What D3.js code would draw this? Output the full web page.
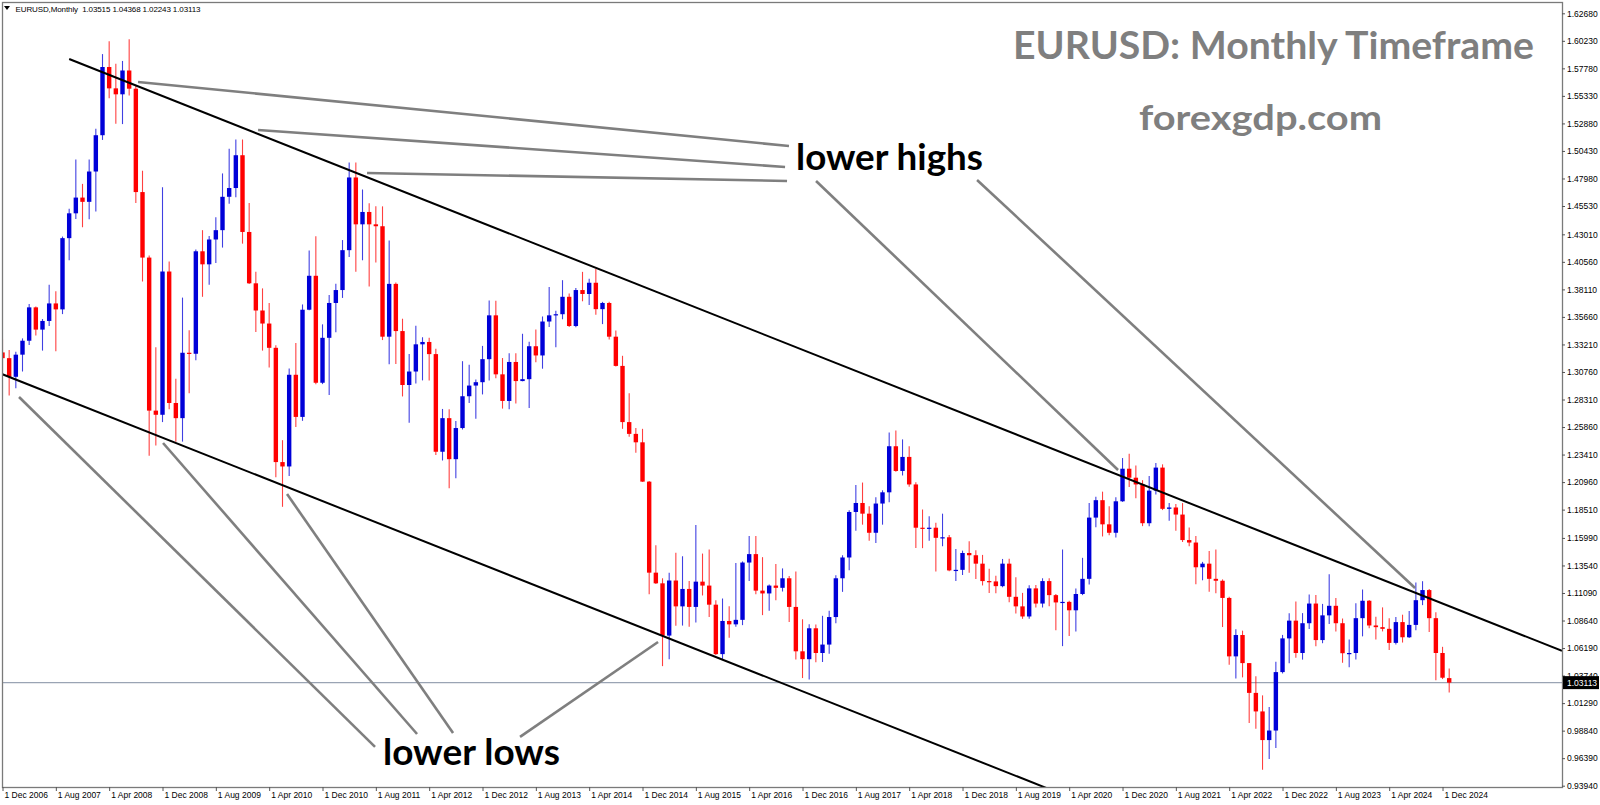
<!DOCTYPE html>
<html><head><meta charset="utf-8">
<script src="https://cdn.jsdelivr.net/npm/d3@7"></script>
<style>html,body{margin:0;padding:0;background:#fff;overflow:hidden}</style>
</head><body>
<svg id="chart" width="1600" height="805"></svg>
<script>
// ---------- DATA (monthly OHLC, EURUSD) : [open, high, low, close] ----------
const ohlc2006 = [[1.3250,1.3367,1.3068,1.3199]];
const ohlc2007 = [[1.3199,1.3271,1.2866,1.3033],[1.3033,1.3257,1.2932,1.3230],[1.3230,1.3375,1.3080,1.3354],[1.3354,1.3682,1.3317,1.3651],[1.3651,1.3659,1.3401,1.3453],[1.3453,1.3547,1.3266,1.3530],[1.3530,1.3852,1.3485,1.3686],[1.3686,1.3795,1.3261,1.3633],[1.3633,1.4281,1.3591,1.4267],[1.4267,1.4528,1.4070,1.4488],[1.4488,1.4966,1.4437,1.4628],[1.4628,1.4750,1.4364,1.4590]];
const ohlc2008 = [[1.4590,1.4966,1.4436,1.4860],[1.4860,1.5240,1.4504,1.5183],[1.5183,1.5905,1.5141,1.5790],[1.5790,1.6019,1.5513,1.5600],[1.5600,1.5819,1.5285,1.5547],[1.5547,1.5844,1.5282,1.5759],[1.5759,1.6038,1.5537,1.5597],[1.5597,1.5626,1.4580,1.4677],[1.4677,1.4867,1.3881,1.4094],[1.4094,1.4112,1.2330,1.2732],[1.2732,1.3297,1.2422,1.2695],[1.2695,1.4720,1.2630,1.3970]];
const ohlc2009 = [[1.3970,1.4059,1.2745,1.2800],[1.2800,1.3015,1.2456,1.2665],[1.2665,1.3738,1.2456,1.3247],[1.3247,1.3448,1.2886,1.3238],[1.3238,1.4166,1.3180,1.4150],[1.4150,1.4338,1.3745,1.4034],[1.4034,1.4287,1.3853,1.4255],[1.4255,1.4454,1.4046,1.4338],[1.4338,1.4843,1.4183,1.4635],[1.4635,1.5063,1.4574,1.4713],[1.4713,1.5144,1.4632,1.5005],[1.5005,1.5145,1.4218,1.4322]];
const ohlc2010 = [[1.4322,1.4580,1.3859,1.3865],[1.3865,1.3968,1.3431,1.3623],[1.3623,1.3820,1.3266,1.3507],[1.3507,1.3690,1.3115,1.3291],[1.3291,1.3314,1.2140,1.2274],[1.2274,1.2469,1.1876,1.2235],[1.2235,1.3107,1.2150,1.3051],[1.3051,1.3333,1.2587,1.2676],[1.2676,1.3677,1.2641,1.3630],[1.3630,1.4158,1.3625,1.3932],[1.3932,1.4283,1.2967,1.2980],[1.2980,1.3500,1.2968,1.3380]];
const ohlc2011 = [[1.3380,1.3760,1.2870,1.3690],[1.3690,1.3862,1.3430,1.3805],[1.3805,1.4250,1.3735,1.4160],[1.4160,1.4940,1.4100,1.4807],[1.4807,1.4940,1.3968,1.4390],[1.4390,1.4700,1.4070,1.4500],[1.4500,1.4578,1.3837,1.4390],[1.4390,1.4550,1.4050,1.4373],[1.4373,1.4550,1.3360,1.3390],[1.3390,1.4247,1.3145,1.3860],[1.3860,1.3873,1.3146,1.3440],[1.3440,1.3550,1.2858,1.2960]];
const ohlc2012 = [[1.2960,1.3236,1.2624,1.3080],[1.3080,1.3487,1.2973,1.3322],[1.3322,1.3385,1.3001,1.3343],[1.3343,1.3380,1.3000,1.3235],[1.3235,1.3283,1.2336,1.2366],[1.2366,1.2747,1.2288,1.2665],[1.2665,1.2745,1.2042,1.2300],[1.2300,1.2640,1.2130,1.2577],[1.2577,1.3172,1.2564,1.2860],[1.2860,1.3140,1.2800,1.2955],[1.2955,1.3010,1.2660,1.2985],[1.2985,1.3308,1.2876,1.3190]];
const ohlc2013 = [[1.3190,1.3711,1.3000,1.3580],[1.3580,1.3710,1.3020,1.3055],[1.3055,1.3200,1.2750,1.2818],[1.2818,1.3243,1.2744,1.3165],[1.3165,1.3242,1.2795,1.2995],[1.2995,1.3416,1.2993,1.3012],[1.3012,1.3346,1.2755,1.3305],[1.3305,1.3453,1.3162,1.3223],[1.3223,1.3570,1.3105,1.3525],[1.3525,1.3832,1.3477,1.3580],[1.3580,1.3620,1.3295,1.3590],[1.3590,1.3893,1.3545,1.3745]];
const ohlc2014 = [[1.3745,1.3775,1.3477,1.3485],[1.3485,1.3824,1.3475,1.3805],[1.3805,1.3967,1.3705,1.3770],[1.3770,1.3906,1.3672,1.3870],[1.3870,1.3993,1.3586,1.3635],[1.3635,1.3700,1.3502,1.3690],[1.3690,1.3700,1.3366,1.3390],[1.3390,1.3445,1.3124,1.3130],[1.3130,1.3220,1.2570,1.2630],[1.2630,1.2886,1.2500,1.2525],[1.2525,1.2577,1.2358,1.2450],[1.2450,1.2570,1.2098,1.2100]];
const ohlc2015 = [[1.2100,1.2105,1.1098,1.1290],[1.1290,1.1534,1.1190,1.1195],[1.1195,1.1240,1.0458,1.0730],[1.0730,1.1290,1.0520,1.1220],[1.1220,1.1467,1.0818,1.0990],[1.0990,1.1436,1.0819,1.1145],[1.1145,1.1215,1.0809,1.0985],[1.0985,1.1714,1.0847,1.1210],[1.1210,1.1460,1.1087,1.1175],[1.1175,1.1495,1.0895,1.1005],[1.1005,1.1045,1.0558,1.0565],[1.0565,1.1060,1.0522,1.0860]];
const ohlc2016 = [[1.0860,1.0990,1.0711,1.0830],[1.0830,1.1376,1.0808,1.0870],[1.0870,1.1390,1.0823,1.1380],[1.1380,1.1617,1.1216,1.1455],[1.1455,1.1616,1.1098,1.1130],[1.1130,1.1428,1.0912,1.1105],[1.1105,1.1185,1.0952,1.1175],[1.1175,1.1366,1.1045,1.1155],[1.1155,1.1328,1.1122,1.1240],[1.1240,1.1260,1.0851,1.0985],[1.0985,1.1300,1.0518,1.0590],[1.0590,1.0875,1.0352,1.0520]];
const ohlc2017 = [[1.0520,1.0830,1.0340,1.0795],[1.0795,1.0828,1.0493,1.0575],[1.0575,1.0906,1.0495,1.0650],[1.0650,1.0950,1.0569,1.0895],[1.0895,1.1268,1.0839,1.1240],[1.1240,1.1445,1.1119,1.1425],[1.1425,1.1846,1.1312,1.1830],[1.1830,1.2070,1.1662,1.1910],[1.1910,1.2092,1.1717,1.1815],[1.1815,1.1880,1.1575,1.1645],[1.1645,1.1962,1.1554,1.1905],[1.1905,1.2023,1.1717,1.2005]];
const ohlc2018 = [[1.2005,1.2537,1.1916,1.2415],[1.2415,1.2555,1.2188,1.2195],[1.2195,1.2476,1.2155,1.2320],[1.2320,1.2414,1.2055,1.2075],[1.2075,1.2095,1.1510,1.1690],[1.1690,1.1852,1.1508,1.1685],[1.1685,1.1791,1.1575,1.1690],[1.1690,1.1734,1.1300,1.1600],[1.1600,1.1815,1.1525,1.1605],[1.1605,1.1625,1.1302,1.1310],[1.1310,1.1500,1.1216,1.1315],[1.1315,1.1486,1.1269,1.1465]];
const ohlc2019 = [[1.1465,1.1570,1.1289,1.1445],[1.1445,1.1489,1.1234,1.1370],[1.1370,1.1448,1.1176,1.1215],[1.1215,1.1324,1.1110,1.1212],[1.1212,1.1263,1.1107,1.1170],[1.1170,1.1412,1.1160,1.1370],[1.1370,1.1413,1.1027,1.1075],[1.1075,1.1250,1.0926,1.0990],[1.0990,1.1110,1.0879,1.0900],[1.0900,1.1178,1.0880,1.1150],[1.1150,1.1180,1.0981,1.1015],[1.1015,1.1240,1.0980,1.1215]];
const ohlc2020 = [[1.1215,1.1240,1.0990,1.1090],[1.1090,1.1100,1.0778,1.1025],[1.1025,1.1496,1.0636,1.1030],[1.1030,1.1040,1.0727,1.0955],[1.0955,1.1148,1.0766,1.1100],[1.1100,1.1422,1.1090,1.1235],[1.1235,1.1909,1.1185,1.1780],[1.1780,1.1966,1.1695,1.1935],[1.1935,1.2011,1.1612,1.1720],[1.1720,1.1880,1.1623,1.1645],[1.1645,1.1960,1.1603,1.1925],[1.1925,1.2310,1.1920,1.2215]];
const ohlc2021 = [[1.2215,1.2349,1.2053,1.2135],[1.2135,1.2243,1.1953,1.2075],[1.2075,1.2113,1.1704,1.1730],[1.1730,1.2150,1.1704,1.2020],[1.2020,1.2266,1.1986,1.2225],[1.2225,1.2254,1.1847,1.1858],[1.1858,1.1909,1.1752,1.1870],[1.1870,1.1900,1.1664,1.1807],[1.1807,1.1909,1.1563,1.1580],[1.1580,1.1692,1.1524,1.1558],[1.1558,1.1616,1.1186,1.1338],[1.1338,1.1386,1.1222,1.1370]];
const ohlc2022 = [[1.1370,1.1483,1.1121,1.1235],[1.1235,1.1495,1.1106,1.1218],[1.1218,1.1230,1.0806,1.1065],[1.1065,1.1076,1.0471,1.0545],[1.0545,1.0787,1.0349,1.0735],[1.0735,1.0774,1.0358,1.0485],[1.0485,1.0486,0.9952,1.0220],[1.0220,1.0368,0.9901,1.0055],[1.0055,1.0198,0.9536,0.9800],[0.9800,1.0094,0.9632,0.9885],[0.9885,1.0497,0.9730,1.0405],[1.0405,1.0736,1.0393,1.0705]];
const ohlc2023 = [[1.0705,1.0929,1.0483,1.0863],[1.0863,1.1033,1.0533,1.0575],[1.0575,1.0930,1.0516,1.0840],[1.0840,1.1095,1.0788,1.1015],[1.1015,1.1092,1.0635,1.0690],[1.0690,1.1012,1.0662,1.0910],[1.0910,1.1276,1.0834,1.0995],[1.0995,1.1065,1.0766,1.0840],[1.0840,1.0882,1.0488,1.0573],[1.0573,1.0695,1.0448,1.0575],[1.0575,1.1017,1.0517,1.0885],[1.0885,1.1140,1.0723,1.1040]];
const ohlc2024 = [[1.1040,1.1046,1.0795,1.0820],[1.0820,1.0898,1.0695,1.0805],[1.0805,1.0981,1.0767,1.0790],[1.0790,1.0885,1.0601,1.0665],[1.0665,1.0895,1.0650,1.0850],[1.0850,1.0916,1.0668,1.0715],[1.0715,1.0948,1.0709,1.0825],[1.0825,1.1202,1.0777,1.1045],[1.1045,1.1214,1.1001,1.1135],[1.1135,1.1144,1.0761,1.0885],[1.0885,1.0937,1.0333,1.0575],[1.0575,1.0630,1.0343,1.0355]];
const ohlc2025 = [[1.03515,1.04368,1.02243,1.03113]];

const firstMonth = "2006-12";
const currentPrice = 1.03113;
const headerText = "EURUSD,Monthly  1.03515 1.04368 1.02243 1.03113";

const priceTicks = [0.93940,0.96390,0.98840,1.01290,1.03740,1.06190,1.08640,1.11090,1.13540,1.15990,1.18510,1.20960,1.23410,1.25860,1.28310,1.30760,1.33210,1.35660,1.38110,1.40560,1.43010,1.45530,1.47980,1.50430,1.52880,1.55330,1.57780,1.60230,1.62680];
const dateTickLabels = ["1 Dec 2006","1 Aug 2007","1 Apr 2008","1 Dec 2008","1 Aug 2009","1 Apr 2010","1 Dec 2010","1 Aug 2011","1 Apr 2012","1 Dec 2012","1 Aug 2013","1 Apr 2014","1 Dec 2014","1 Aug 2015","1 Apr 2016","1 Dec 2016","1 Aug 2017","1 Apr 2018","1 Dec 2018","1 Aug 2019","1 Apr 2020","1 Dec 2020","1 Aug 2021","1 Apr 2022","1 Dec 2022","1 Aug 2023","1 Apr 2024","1 Dec 2024"];

// trend channel (bar index, price)
const upperChannel = [[10, 1.5861],[233.92, 1.0594]];
const lowerChannel = [[-0.1, 1.3058],[170, 0.9058]];
// annotation connectors (bar index, price)
const highConnectors = [
  [[20.33,1.5657],[117.97,1.5087]],
  [[38.33,1.5230],[117.38,1.4900]],
  [[54.68,1.4847],[117.68,1.4776]],
  [[122.03,1.4776],[167.33,1.2204]],
  [[146.18,1.4785],[211.88,1.1154]]
];
const lowConnectors = [
  [[2.48,1.2853],[55.88,0.9739]],
  [[24.08,1.2444],[62.18,0.9854]],
  [[42.68,1.1990],[67.58,0.9863]],
  [[98.33,1.0673],[77.63,0.9828]]
];

// ---------- BUILD ----------
const rows = [].concat(ohlc2006,ohlc2007,ohlc2008,ohlc2009,ohlc2010,ohlc2011,ohlc2012,ohlc2013,ohlc2014,ohlc2015,ohlc2016,ohlc2017,ohlc2018,ohlc2019,ohlc2020,ohlc2021,ohlc2022,ohlc2023,ohlc2024,ohlc2025);
const start = d3.timeParse("%Y-%m")(firstMonth);
const bars = rows.map((r,i)=>({i, date:d3.timeMonth.offset(start,i), o:r[0], h:r[1], l:r[2], c:r[3]}));

const P = {left:2, top:2, right:1562, bottom:787};
const x = d3.scaleLinear().domain([0, 233.92]).range([2.5, P.right]);
const y = d3.scaleLinear().domain([0.9394, 1.6268]).range([785.7, 13.3]);

const svg = d3.select("#chart");
svg.append("rect").attr("width",1600).attr("height",805).attr("fill","#fff");
svg.append("defs").append("clipPath").attr("id","clip")
  .append("rect").attr("x",P.left).attr("y",P.top).attr("width",P.right-P.left).attr("height",P.bottom-P.top);

const plot = svg.append("g").attr("clip-path","url(#clip)");

// current price line
plot.append("line").attr("x1",P.left).attr("x2",P.right)
  .attr("y1",y(currentPrice)).attr("y2",y(currentPrice))
  .attr("stroke","#9aa4b4").attr("stroke-width",1.3);

const BULL="#0000d8", BEAR="#ff0000";
const bw = 4.4;
const cg = plot.append("g");
cg.selectAll("line.wick").data(bars).join("line").attr("class","wick")
  .attr("x1",d=>x(d.i)).attr("x2",d=>x(d.i))
  .attr("y1",d=>y(d.h)).attr("y2",d=>y(d.l))
  .attr("stroke",d=>d.c>=d.o?BULL:BEAR).attr("stroke-opacity",0.75).attr("stroke-width",1.1);
cg.selectAll("rect.body").data(bars).join("rect").attr("class","body")
  .attr("x",d=>x(d.i)-bw/2).attr("width",bw)
  .attr("y",d=>y(Math.max(d.o,d.c)))
  .attr("height",d=>Math.max(1.2, Math.abs(y(d.o)-y(d.c))))
  .attr("fill",d=>d.c>=d.o?BULL:BEAR);

// channel lines
const lineGen = d3.line().x(d=>x(d[0])).y(d=>y(d[1]));
plot.append("path").attr("d",lineGen(upperChannel)).attr("stroke","#000").attr("stroke-width",2).attr("fill","none");
plot.append("path").attr("d",lineGen(lowerChannel)).attr("stroke","#000").attr("stroke-width",2).attr("fill","none");

// connectors
plot.selectAll("path.conn").data(highConnectors.concat(lowConnectors)).join("path").attr("class","conn")
  .attr("d",d=>lineGen(d)).attr("stroke","#7f7f7f").attr("stroke-width",2.6).attr("fill","none");

// frame
svg.append("rect").attr("x",P.left+0.5).attr("y",P.top+0.5).attr("width",P.right-P.left).attr("height",P.bottom-P.top)
  .attr("fill","none").attr("stroke","#7a7a7a").attr("stroke-width",1.3);

// right price axis
const axisFont = "'Liberation Sans', Arial, sans-serif";
const ya = svg.append("g").attr("transform",`translate(${P.right},0)`)
  .call(d3.axisRight(y).tickValues(priceTicks).tickFormat(d3.format(".5f")).tickSize(3).tickPadding(2));
ya.select(".domain").remove();
ya.selectAll("line").attr("stroke","#555");
ya.selectAll("text").attr("font-family",axisFont).attr("font-size",8.5).attr("fill","#000");

// bottom date axis
const parseLbl = d3.timeParse("%d %b %Y");
const tickIdx = dateTickLabels.map(s=>bars.findIndex(b=>+b.date===+parseLbl(s)));
const xa = svg.append("g").attr("transform",`translate(0,${P.bottom})`)
  .call(d3.axisBottom(x).tickValues(tickIdx).tickFormat((d,k)=>dateTickLabels[k]).tickSize(4).tickPadding(2));
xa.select(".domain").remove();
xa.selectAll("line").attr("stroke","#555");
xa.selectAll("text").attr("font-family",axisFont).attr("font-size",8.5).attr("fill","#000")
  .attr("text-anchor","start").attr("dx",1.5).attr("dy","0.6em");

// current price label
const cp = svg.append("g").attr("transform",`translate(${P.right+1},${y(currentPrice)})`);
cp.append("rect").attr("x",0).attr("y",-6.5).attr("width",36).attr("height",13).attr("fill","#000");
cp.append("text").attr("x",4).attr("y",0).attr("dy","0.35em").text(d3.format(".5f")(currentPrice))
  .attr("font-family",axisFont).attr("font-size",8.5).attr("fill","#fff");

// header
svg.append("path").attr("d","M4,6 L10,6 L7,10 Z").attr("fill","#000");
svg.append("text").attr("x",15.5).attr("y",11.5).attr("xml:space","preserve").text(headerText)
  .attr("font-family",axisFont).attr("font-size",8).attr("fill","#000").attr("textLength",185);

// annotation texts
const annFont = "Lato, 'Open Sans', sans-serif";
function label(txt, xx, yy, size, len, fill){
  svg.append("text").attr("x",xx).attr("y",yy).text(txt)
    .attr("font-family",annFont).attr("font-weight",700).attr("font-size",size)
    .attr("fill",fill).attr("textLength",len).attr("lengthAdjust","spacingAndGlyphs");
}
label("EURUSD: Monthly Timeframe", 1013, 59, 38, 521, "#7f7f7f");
label("forexgdp.com", 1139, 130, 34, 243, "#7f7f7f");
label("lower highs", 796, 170, 37, 187, "#000");
label("lower lows", 383, 765, 36, 177, "#000");
</script>
</body></html>
